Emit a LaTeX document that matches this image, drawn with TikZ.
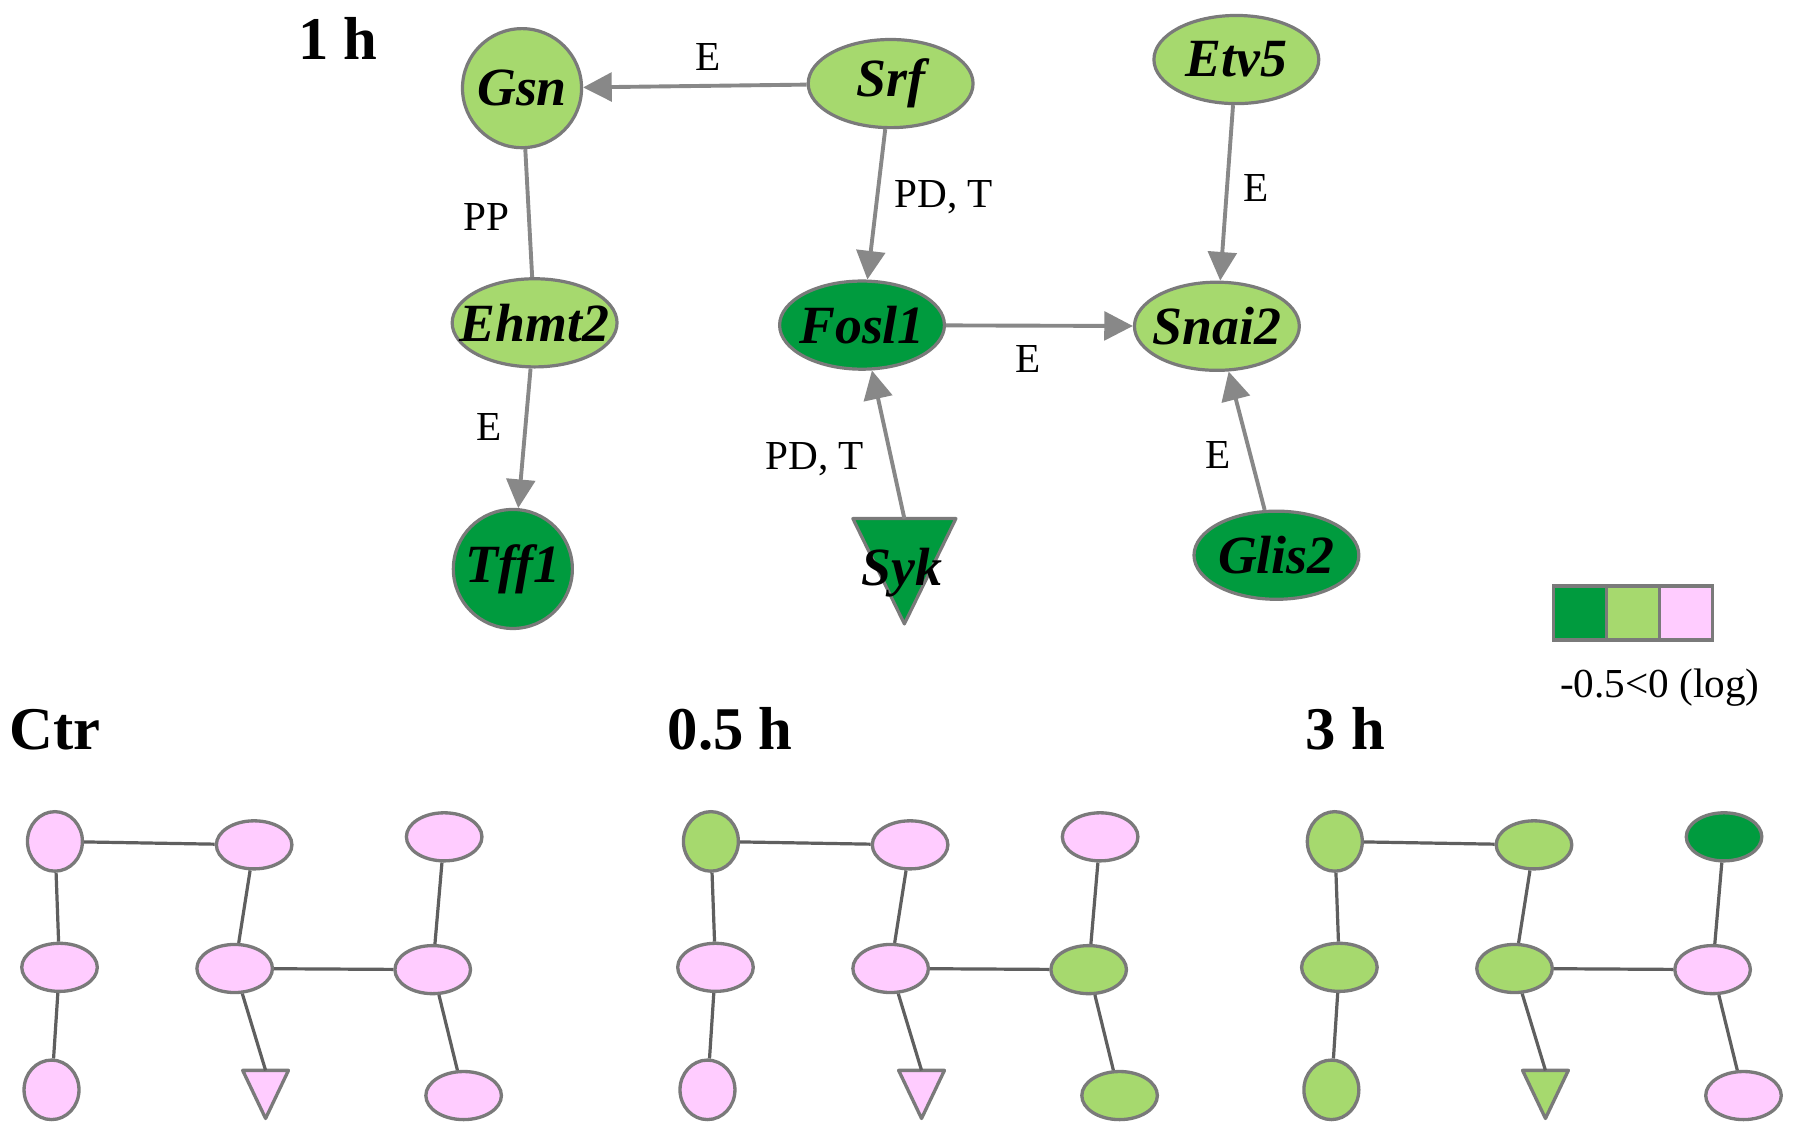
\documentclass[tikz,border=0pt]{standalone}
\usepackage{fontspec}
\setmainfont{Liberation Serif}
\usetikzlibrary{shapes.geometric, arrows.meta}
\definecolor{dg}{RGB}{0,155,62}
\definecolor{lg}{RGB}{166,217,110}
\definecolor{pk}{RGB}{255,204,255}
\definecolor{bd}{RGB}{122,122,122}
\definecolor{eg}{RGB}{136,136,136}
\definecolor{mg}{RGB}{95,95,95}
\newcommand\genefont{\fontsize{23.5}{24}\selectfont\bfseries\itshape}
\newcommand\labfont{\fontsize{18}{19}\selectfont}
\newcommand\ttlfont{\fontsize{26.5}{27}\selectfont\bfseries}
\newcommand\gn[1]{\makebox[0pt]{#1}}
\newcommand\setcols[9]{\colorlet{nA}{#1}\colorlet{nB}{#2}\colorlet{nC}{#3}\colorlet{nD}{#4}\colorlet{nE}{#5}\colorlet{nF}{#6}\colorlet{nG}{#7}\colorlet{nH}{#8}\colorlet{nI}{#9}}
\newcommand\minipanel[1]{%
  \node[minic, fill=nA] (#1A) at (48,735) {};
  \node[mini, fill=nB] (#1B) at (222,738) {};
  \node[mini, fill=nC] (#1C) at (388,731) {};
  \node[mini, fill=nD] (#1D) at (52,845) {};
  \node[mini, fill=nE] (#1E) at (205,846) {};
  \node[mini, fill=nF] (#1F) at (378,847) {};
  \node[minic, fill=nG] (#1G) at (45,952) {};
  \filldraw[fill=nH, draw=bd, line width=1.45pt, line join=round] (212,935) -- (252,935) -- (232,977) -- cycle;
  \coordinate (#1H) at (232,935);
  \node[mini, fill=nI] (#1I) at (405,957) {};
  \draw[mlin] (#1A) -- (#1B);
  \draw[mlin] (#1A) -- (#1D);
  \draw[mlin] (#1D) -- (#1G);
  \draw[mlin] (#1B) -- (#1E);
  \draw[mlin] (#1E) -- (#1F);
  \draw[mlin] (#1E) -- (#1H);
  \draw[mlin] (#1C) -- (#1F);
  \draw[mlin] (#1F) -- (#1I);
}
\begin{document}
\begin{tikzpicture}[x=0.5pt,y=-0.5pt,
  gene/.style={ellipse, draw=bd, line width=1.4pt, inner sep=0pt, minimum width=72pt, minimum height=38.5pt, font=\genefont},
  roundgene/.style={gene, minimum width=52pt, minimum height=52pt},
  arr/.style={draw=eg, line width=1.7pt, -{Triangle[length=12.5pt,width=12.5pt]}, fill=eg},
  lin/.style={draw=eg, line width=1.7pt},
  lab/.style={font=\labfont, inner sep=0pt, fill=none},
  ttl/.style={font=\ttlfont, inner sep=0pt, anchor=base west},
  mini/.style={ellipse, draw=bd, line width=1.45pt, inner sep=0pt, minimum width=33pt, minimum height=21pt},
  minic/.style={mini, minimum width=24pt, minimum height=26pt},
  mlin/.style={draw=mg, line width=1.4pt},
  legbox/.style={draw=bd, line width=1.5pt, minimum width=23.17pt, minimum height=23.5pt, inner sep=0pt, outer sep=0pt},
]
\path[fill=white, use as bounding box] (0,0) rectangle (1568,991);

% titles
\node[ttl] (t1h) at (260,52) {1 h};
\node[ttl] (tctr) at (8,655) {Ctr};
\node[ttl] (t05) at (583,655) {0.5 h};
\node[ttl] (t3h) at (1140,655) {3 h};

% top graph nodes
\node[roundgene, fill=lg] (gsn) at (456,77) {\gn{Gsn}};
\node[gene, fill=lg] (srf) at (778,73) {\gn{Srf}};
\node[gene, fill=lg] (etv5) at (1080,52) {\gn{Etv5}};
\node[gene, fill=lg] (ehmt2) at (467,282) {\gn{Ehmt2}};
\node[gene, fill=dg] (fosl1) at (753,284) {\gn{Fosl1}};
\node[gene, fill=lg] (snai2) at (1063,285) {\gn{Snai2}};
\node[roundgene, fill=dg] (tff1) at (448,497) {\gn{Tff1}};
\node[gene, fill=dg] (glis2) at (1115,485) {\gn{Glis2}};
\filldraw[fill=dg, draw=bd, line width=1.4pt, line join=round] (745,453) -- (835,453) -- (790,545) -- cycle;
\coordinate (syk) at (790,453);
\node[font=\genefont, inner sep=0pt] (syklab) at (788,500) {Syk};

% top graph connectors
\draw[arr] (srf) -- node[lab, pos=0.44, yshift=12.5pt] (l1) {E} (gsn);
\draw[lin] (gsn) -- node[lab, pos=0.53, xshift=-18.5pt] (l2) {PP} (ehmt2);
\draw[arr] (srf) -- node[lab, pos=0.45, xshift=29pt] (l3) {PD, T} (fosl1);
\draw[arr] (etv5) -- node[lab, pos=0.47, xshift=12.5pt] (l4) {E} (snai2);
\draw[arr] (ehmt2) -- node[lab, pos=0.42, xshift=-16pt] (l5) {E} (tff1);
\draw[arr] (fosl1) -- node[lab, pos=0.44, yshift=-14.5pt] (l6) {E} (snai2);
\draw[arr] (syk) -- node[lab, pos=0.4, xshift=-33.5pt] (l7) {PD, T} (fosl1);
\draw[arr] (glis2) -- node[lab, pos=0.4, xshift=-14pt] (l8) {E} (snai2);

% legend
\node[legbox, fill=dg] (leg1) at (1380.2,535.5) {};
\node[legbox, fill=lg] (leg2) at (1426.5,535.5) {};
\node[legbox, fill=pk] (leg3) at (1472.8,535.5) {};
\node[lab] (legtxt) at (1450,601) {-0.5<0 (log)};

% mini panels
\setcols{pk}{pk}{pk}{pk}{pk}{pk}{pk}{pk}{pk}
\begin{scope}
\minipanel{c}
\end{scope}
\setcols{lg}{pk}{pk}{pk}{pk}{lg}{pk}{pk}{lg}
\begin{scope}[xshift=286.5pt]
\minipanel{h}
\end{scope}
\setcols{lg}{lg}{dg}{lg}{lg}{pk}{lg}{lg}{pk}
\begin{scope}[xshift=559pt]
\minipanel{t}
\end{scope}
\end{tikzpicture}
\end{document}
